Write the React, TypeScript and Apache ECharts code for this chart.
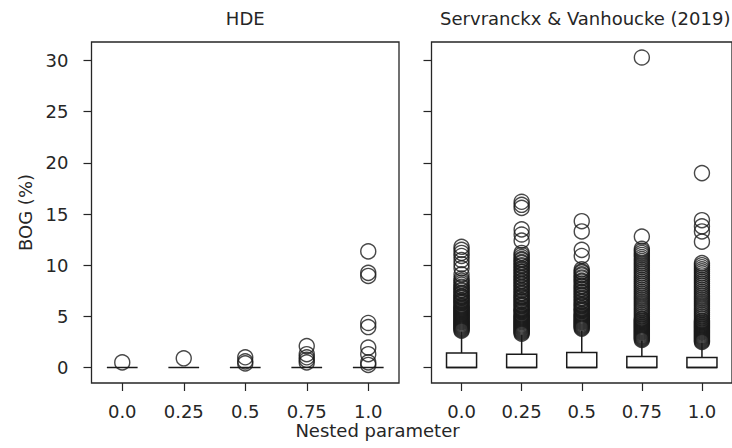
import React, { useEffect, useRef } from "react";
import * as echarts from "echarts";

// Nested parameter values on the x axis
const nestedParams = ["0.0", "0.25", "0.5", "0.75", "1.0"];
const yTicks = [0, 5, 10, 15, 20, 25, 30];

// Box statistics: [lower whisker, Q1, median, Q3, upper whisker]
const hdeBoxStats = [
  [0, 0, 0, 0, 0],
  [0, 0, 0, 0, 0],
  [0, 0, 0, 0, 0],
  [0, 0, 0, 0, 0],
  [0, 0, 0, 0, 0],
];
const svBoxStats = [
  [0, 0, 0, 1.42, 3.5],
  [0, 0, 0, 1.3, 3.2],
  [0, 0, 0, 1.46, 3.6],
  [0, 0, 0, 1.07, 2.6],
  [0, 0, 0, 0.98, 2.4],
];

// HDE outliers per nested parameter
const hdeOut00 = [0.5];
const hdeOut025 = [0.9];
const hdeOut05 = [1.0, 0.6, 0.4];
const hdeOut075 = [2.1, 1.3, 1.0, 0.75, 0.5];
const hdeOut10 = [11.35, 9.25, 8.95, 4.35, 3.95, 1.95, 1.3, 0.5, 0.25];

// Servranckx & Vanhoucke (2019) outliers per nested parameter
const svOut00 = [
  11.8, 11.5, 11.2, 10.9, 10.5, 10.1, 9.7, 9.1, 8.7, 8.5, 8.3, 8.1, 7.9, 7.8,
  7.6, 7.5, 7.3, 7.2, 7.0, 6.9, 6.8, 6.6, 6.5, 6.4, 6.3, 6.1, 6.0, 5.9, 5.8,
  5.7, 5.6, 5.5, 5.4, 5.3, 5.2, 5.1, 5.0, 4.9, 4.8, 4.7, 4.6, 4.5, 4.4, 4.3,
  4.2, 4.1, 4.0, 3.9, 3.8, 3.7, 3.6,
];
const svOut025 = [
  16.2, 15.9, 15.6, 13.5, 13.0, 12.4, 11.2, 11.0, 10.8, 10.6, 10.5, 10.3, 10.2,
  10.0, 9.9, 9.7, 9.6, 9.4, 9.3, 9.1, 9.0, 8.8, 8.7, 8.5, 8.4, 8.2, 8.1, 7.9,
  7.8, 7.6, 7.5, 7.3, 7.2, 7.0, 6.9, 6.8, 6.6, 6.5, 6.4, 6.2, 6.1, 6.0, 5.8,
  5.7, 5.6, 5.5, 5.4, 5.2, 5.1, 5.0, 4.9, 4.8, 4.7, 4.6, 4.5, 4.4, 4.3, 4.2,
  4.1, 4.0, 3.9, 3.8, 3.7, 3.6, 3.5, 3.4, 3.3,
];
const svOut05 = [
  14.3, 13.3, 11.5, 10.9, 9.6, 9.4, 9.3, 9.1, 9.0, 8.8, 8.7, 8.5, 8.4, 8.2,
  8.0, 7.9, 7.7, 7.6, 7.4, 7.3, 7.1, 7.0, 6.8, 6.7, 6.5, 6.4, 6.2, 6.1, 6.0,
  5.8, 5.7, 5.6, 5.5, 5.3, 5.2, 5.1, 5.0, 4.9, 4.8, 4.7, 4.6, 4.5, 4.4, 4.3,
  4.2, 4.1, 4.0, 3.9, 3.8,
];
const svOut075 = [
  30.3, 12.8, 11.6, 11.4, 11.2, 11.0, 10.8, 10.6, 10.4, 10.2, 10.0, 9.8, 9.6,
  9.4, 9.2, 9.0, 8.8, 8.6, 8.4, 8.2, 8.0, 7.8, 7.6, 7.4, 7.2, 7.0, 6.8, 6.6,
  6.4, 6.2, 6.0, 5.8, 5.6, 5.4, 5.2, 5.0, 4.8, 4.7, 4.6, 4.5, 4.4, 4.3, 4.2,
  4.1, 4.0, 3.9, 3.8, 3.7, 3.6, 3.5, 3.4, 3.3, 3.2, 3.1, 3.0, 2.9, 2.8, 2.7,
];
const svOut10 = [
  19.0, 14.4, 13.8, 13.3, 12.3, 10.2, 10.0, 9.8, 9.6, 9.4, 9.2, 9.0, 8.8, 8.6,
  8.4, 8.2, 8.0, 7.8, 7.6, 7.4, 7.2, 7.0, 6.8, 6.6, 6.4, 6.2, 6.0, 5.8, 5.6,
  5.4, 5.2, 5.0, 4.8, 4.6, 4.5, 4.4, 4.3, 4.2, 4.1, 4.0, 3.9, 3.8, 3.7, 3.6,
  3.5, 3.4, 3.3, 3.2, 3.1, 3.0, 2.9, 2.8, 2.7, 2.6, 2.5,
];

const hdeOutliers = [hdeOut00, hdeOut025, hdeOut05, hdeOut075, hdeOut10];
const svOutliers = [svOut00, svOut025, svOut05, svOut075, svOut10];

const INK = "#262626";
const MARK = "#1a1a1a";
const FONT = "DejaVu Sans";

const boxData = (stats: number[][]) => stats.map((s, i) => [i, ...s]);
const outlierData = (groups: number[][]) =>
  groups.flatMap((vals, i) => vals.map((v) => [i, v]));

// Box with whiskers and median line, half a category band wide
const renderBox = (params: any, api: any) => {
  const ci = api.value(0);
  const lo = api.coord([ci, api.value(1)]);
  const q1 = api.coord([ci, api.value(2)]);
  const md = api.coord([ci, api.value(3)]);
  const q3 = api.coord([ci, api.value(4)]);
  const hi = api.coord([ci, api.value(5)]);
  const w = api.size([1, 0])[0] * 0.5;
  const cx = q1[0];
  const line = { stroke: MARK, lineWidth: 1.5, fill: "none" };
  const children: any[] = [];
  if (lo[1] - q1[1] > 0.5) {
    children.push({ type: "line", shape: { x1: cx, y1: q1[1], x2: cx, y2: lo[1] }, style: line });
  }
  if (q3[1] - hi[1] > 0.5) {
    children.push({ type: "line", shape: { x1: cx, y1: q3[1], x2: cx, y2: hi[1] }, style: line });
  }
  if (q1[1] - q3[1] > 0.5) {
    children.push({
      type: "rect",
      shape: { x: cx - w / 2, y: q3[1], width: w, height: q1[1] - q3[1] },
      style: { stroke: MARK, lineWidth: 1.5, fill: "#ffffff" },
    });
  }
  children.push({
    type: "line",
    shape: { x1: cx - w / 2, y1: md[1], x2: cx + w / 2, y2: md[1] },
    style: line,
  });
  return { type: "group", children };
};

const makeXAxis = (gridIndex: number) => ({
  type: "category",
  gridIndex,
  data: nestedParams,
  boundaryGap: true,
  axisLine: { show: false, onZero: false },
  axisTick: { show: true, alignWithLabel: true, length: 8, lineStyle: { color: INK, width: 1.2 } },
  axisLabel: { color: INK, fontFamily: FONT, fontSize: 18, margin: 19 },
  splitLine: { show: false },
});

const makeYAxis = (gridIndex: number, labels: boolean) => ({
  type: "value",
  gridIndex,
  min: -1.515,
  max: 31.815,
  axisLine: { show: false },
  axisTick: { show: true, length: 8, customValues: yTicks, lineStyle: { color: INK, width: 1.2 } },
  axisLabel: {
    show: labels,
    customValues: yTicks,
    color: INK,
    fontFamily: FONT,
    fontSize: 18,
    margin: 23,
  },
  splitLine: { show: false },
});

const outlierSeries = (axisIndex: number, groups: number[][]) => ({
  type: "scatter",
  xAxisIndex: axisIndex,
  yAxisIndex: axisIndex,
  symbol: "circle",
  symbolSize: 15,
  itemStyle: { color: "transparent", borderColor: MARK, borderWidth: 1.4 },
  data: outlierData(groups),
  silent: true,
});

export default function App() {
  const ref = useRef<HTMLDivElement>(null);

  useEffect(() => {
    if (!ref.current) return;
    const chart = echarts.init(ref.current, null, { renderer: "svg" });
    const gridBase = { top: 42, height: 341, width: 307.5, show: true, borderColor: INK, borderWidth: 1.3 };
    const textStyle = (text: string) => ({
      text,
      fill: INK,
      font: `18px '${FONT}'`,
      align: "center",
      verticalAlign: "middle",
    });
    chart.setOption({
      animation: false,
      backgroundColor: "#ffffff",
      grid: [
        { ...gridBase, left: 91.5 },
        { ...gridBase, left: 431.5 },
      ],
      xAxis: [makeXAxis(0), makeXAxis(1)],
      yAxis: [makeYAxis(0, true), makeYAxis(1, false)],
      graphic: [
        { type: "text", x: 245.25, y: 18, style: textStyle("HDE") },
        { type: "text", x: 585.25, y: 18, style: textStyle("Servranckx & Vanhoucke (2019)") },
        { type: "text", x: 377.5, y: 430, style: textStyle("Nested parameter") },
        { type: "text", x: 25, y: 212.5, rotation: Math.PI / 2, style: textStyle("BOG (%)") },
      ],
      series: [
        {
          type: "custom",
          xAxisIndex: 0,
          yAxisIndex: 0,
          renderItem: renderBox,
          encode: { x: 0, y: [1, 2, 3, 4, 5] },
          data: boxData(hdeBoxStats),
          silent: true,
        },
        {
          type: "custom",
          xAxisIndex: 1,
          yAxisIndex: 1,
          renderItem: renderBox,
          encode: { x: 0, y: [1, 2, 3, 4, 5] },
          data: boxData(svBoxStats),
          silent: true,
        },
        outlierSeries(0, hdeOutliers),
        outlierSeries(1, svOutliers),
      ],
    });
    return () => chart.dispose();
  }, []);

  return (
    <div
      ref={ref}
      style={{ position: "fixed", left: 0, top: 0, width: 732, height: 448 }}
    />
  );
}
